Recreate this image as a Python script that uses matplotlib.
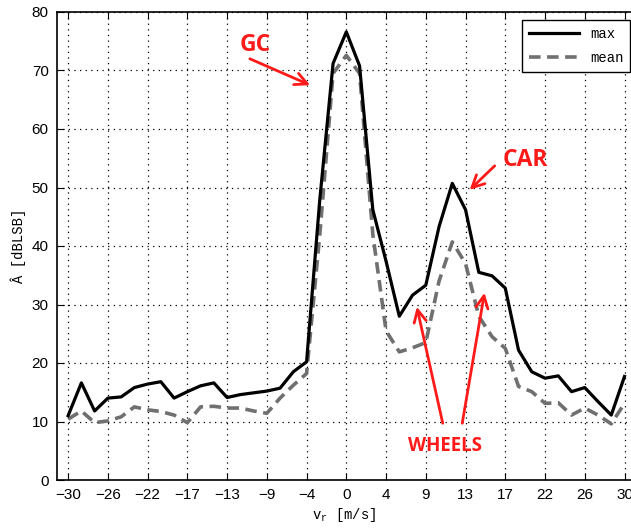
import numpy as np
import matplotlib
matplotlib.use('Agg')
import matplotlib.pyplot as plt

# radial velocity bins [m/s]
vr = np.linspace(-30, 30, 43)

# amplitude per bin [dBLSB]
a_max = [11.0, 16.6, 11.8, 14.0, 14.2, 15.8, 16.4, 16.8, 14.0, 15.1, 16.1,
         16.6, 14.1, 14.6, 14.9, 15.2, 15.7, 18.5, 20.2, 48.0, 71.2, 76.6,
         70.8, 46.2, 37.4, 28.0, 31.6, 33.3, 43.3, 50.7, 46.2, 35.5, 34.9,
         32.8, 22.2, 18.5, 17.4, 17.8, 15.1, 15.8, 13.4, 11.1, 17.7]
a_mean = [10.4, 11.8, 9.8, 10.1, 10.8, 12.5, 12.0, 11.7, 11.1, 9.8, 12.5,
          12.6, 12.3, 12.3, 11.8, 11.4, 14.0, 16.2, 18.2, 42.0, 69.5, 72.6,
          69.5, 42.0, 25.5, 21.9, 22.6, 23.5, 34.0, 40.7, 37.0, 28.0, 24.5,
          22.5, 16.0, 15.1, 13.1, 13.2, 11.1, 12.3, 11.1, 9.6, 13.1]

xtick_pos = np.linspace(-30, 30, 15)
xtick_lab = ['-30', '-26', '-22', '-17', '-13', '-9', '-4', '0', '4', '9',
             '13', '17', '22', '26', '30']
xtick_lab = [s.replace('-', '\u2212') for s in xtick_lab]

fig = plt.figure(figsize=(6.31, 5.30), dpi=100)
ax = fig.add_axes([57 / 631, 50 / 530, 1 - 57 / 631, 468 / 530])

ax.plot(vr, a_max, color='black', lw=2.3, label='max', zorder=3)
ax.plot(vr, a_mean, color='#707070', lw=2.6, dashes=(3.2, 1.8),
        label='mean', zorder=2)

ax.set_xlim(-31.2, 30.7)
ax.set_ylim(0, 80)
ax.set_xticks(xtick_pos)
ax.set_xticklabels(xtick_lab)
ax.set_yticks(np.arange(0, 81, 10))
ax.tick_params(direction='in', length=5, top=True, right=False,
               labelsize=11, pad=6)
for lab in ax.get_xticklabels() + ax.get_yticklabels():
    lab.set_fontfamily('Liberation Sans')
ax.grid(True, color='black', linestyle=(0, (1, 3.5)), lw=0.9)
ax.spines['right'].set_visible(False)
for s in ['left', 'bottom', 'top']:
    ax.spines[s].set_linewidth(1.2)

ax.set_xlabel(r'v$_\mathregular{r}$ [m/s]', fontfamily='Liberation Mono',
              fontsize=10, labelpad=3)
ax.set_ylabel('\u00c2 [dBLSB]', fontfamily='Liberation Mono', fontsize=10,
              labelpad=4)

leg = ax.legend(loc='upper right', bbox_to_anchor=(0.999, 0.983),
                borderaxespad=0,
                prop={'family': 'Liberation Mono', 'size': 10},
                fancybox=False, edgecolor='black', framealpha=1,
                handlelength=3.6, labelspacing=0.75, borderpad=0.5)
leg.get_frame().set_linewidth(1.0)

red = '#ff1a1a'
tprops = dict(color=red, fontsize=16.5, fontweight='bold',
              fontfamily='Open Sans', ha='center', va='center')
arrow = dict(arrowstyle='->', color=red, lw=2, mutation_scale=22,
             shrinkA=0, shrinkB=0)

ax.text(-9.8, 74.4, 'GC', **tprops)
ax.annotate('', xy=(-3.9, 67.5), xytext=(-10.4, 72.0), arrowprops=arrow)
ax.text(19.3, 54.7, 'CAR', **tprops)
ax.annotate('', xy=(13.3, 49.6), xytext=(16.0, 53.7), arrowprops=arrow)
ax.text(10.6, 5.8, 'WHEELS', **dict(tprops, fontsize=13.5))
ax.annotate('', xy=(7.6, 29.6), xytext=(10.4, 9.7), arrowprops=arrow)
ax.annotate('', xy=(14.9, 32.0), xytext=(12.5, 9.7), arrowprops=arrow)

fig.savefig('out.png', dpi=100)
